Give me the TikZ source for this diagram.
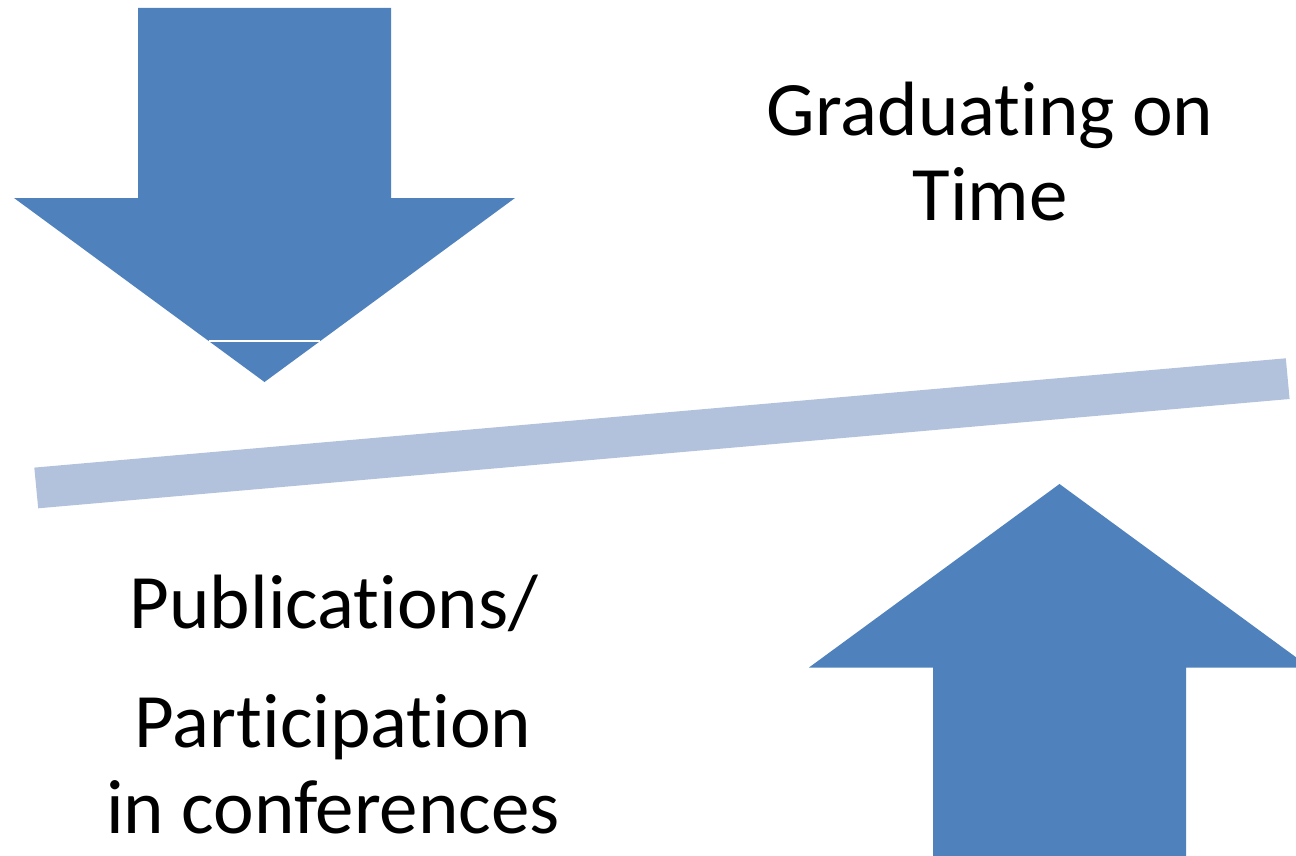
\documentclass[tikz,border=0pt]{standalone}
\usepackage{fontspec}
\setmainfont{Carlito}[Ligatures={NoCommon}]
\definecolor{arrowblue}{HTML}{4F81BD}
\definecolor{barblue}{HTML}{B2C1DC}
\tikzset{
  bigarrow/.style={fill=arrowblue, draw=none},
  beam/.style={fill=barblue, draw=none},
  seam/.style={draw=white, line width=1.3pt},
  label/.style={inner sep=0pt, anchor=base, font=\fontsize{77}{84}\selectfont, text=black}
}
\begin{document}
\begin{tikzpicture}[x=1pt,y=-1pt]
  \useasboundingbox (0,0) rectangle (1296,856);
  \clip (0,0) rectangle (1296,856);
  % down arrow
  \fill[bigarrow] (138,8) -- (391,8) -- (391,198) -- (515,198) -- (264.5,382)
     -- (14,198) -- (138,198) -- cycle;
  \coordinate (sl) at (208.7,341);
  \coordinate (sr) at (320.3,341);
  \draw[seam] (sl) -- (sr);
  % tilted beam
  \fill[beam] (34.3,467.6) -- (1285.8,358.3) -- (1289.6,399) -- (38.2,508.3) -- cycle;
  % up arrow
  \fill[bigarrow] (933,870) -- (933,667.5) -- (809,667.5) -- (1059.5,484)
     -- (1310,667.5) -- (1186,667.5) -- (1186,870) -- cycle;
  % texts
  \node[label] (g1) at (990,136) {Graduating on};
  \node[label] (g2) at (990,220) {Time};
  \node[label] (p1) at (334,628) {Publications/};
  \node[label] (p2) at (333,747) {Participation};
  \node[label] (p3) at (333,833) {in conferences};
\end{tikzpicture}
\end{document}
